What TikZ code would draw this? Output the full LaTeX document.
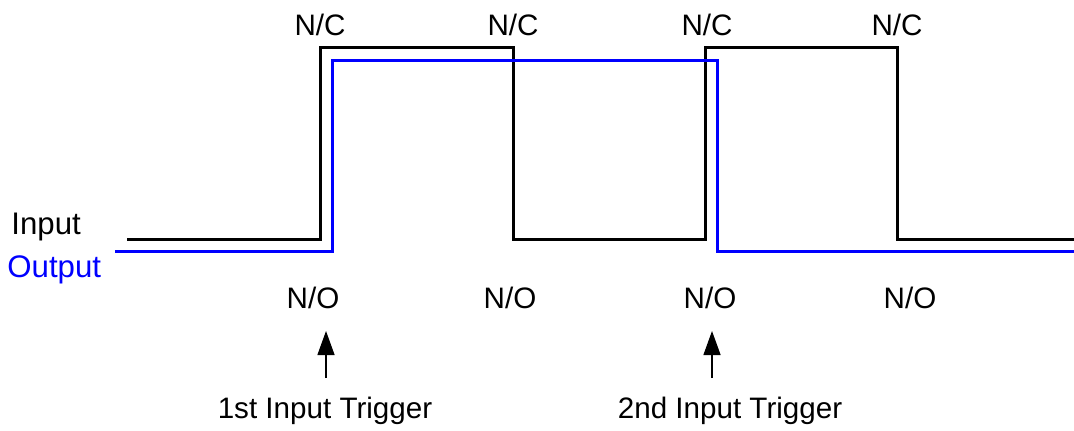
\documentclass[tikz,border=0pt]{standalone}
\usepackage{fontspec}
\setmainfont{Liberation Sans}
\usetikzlibrary{positioning,arrows.meta}

\begin{document}
\begin{tikzpicture}[
    x=0.5pt, y=-0.5pt,
    lbl/.style={inner sep=0pt, font=\fontsize{14.8}{17}\selectfont},
    side/.style={lbl, anchor=west, font=\fontsize{15.6}{18}\selectfont},
    inwave/.style={draw=black, line width=1.5pt},
    outwave/.style={draw=blue, line width=1.5pt},
    trig/.style={-{Triangle[length=12pt, width=8.5pt]}, line width=0.7pt}
]
\useasboundingbox (0,0) rectangle (1074,430);

% waveforms
\draw[inwave] (127,239) -- (320,239) -- (320,47) -- (513,47) -- (513,239)
    -- (705,239) -- (705,47) -- (897,47) -- (897,239) -- (1074,239);
\draw[outwave] (115,251) -- (332,251) -- (332,60) -- (717,60) -- (717,251) -- (1074,251);

% side labels
\node[side] (input) at (11,227) {Input};
\node[side, text=blue] (output) at (7,270) {Output};

% contact states
\node[lbl] (nc1) at (320,25) {N/C};
\node[lbl] (nc2) at (513,25) {N/C};
\node[lbl] (nc3) at (707,25) {N/C};
\node[lbl] (nc4) at (897,25) {N/C};
\node[lbl] (no1) at (313,298) {N/O};
\node[lbl] (no2) at (510,298) {N/O};
\node[lbl] (no3) at (710,298) {N/O};
\node[lbl] (no4) at (910,298) {N/O};

% triggers
\node[lbl] (trig1) at (325,411) {1st Input Trigger};
\node[lbl] (trig2) at (730,411) {2nd Input Trigger};
\coordinate (t1a) at (326,378);
\coordinate (t1b) at (326,331);
\coordinate (t2a) at (712,378);
\coordinate (t2b) at (712,331);
\draw[trig] (t1a) -- (t1b);
\draw[trig] (t2a) -- (t2b);
\end{tikzpicture}
\end{document}
